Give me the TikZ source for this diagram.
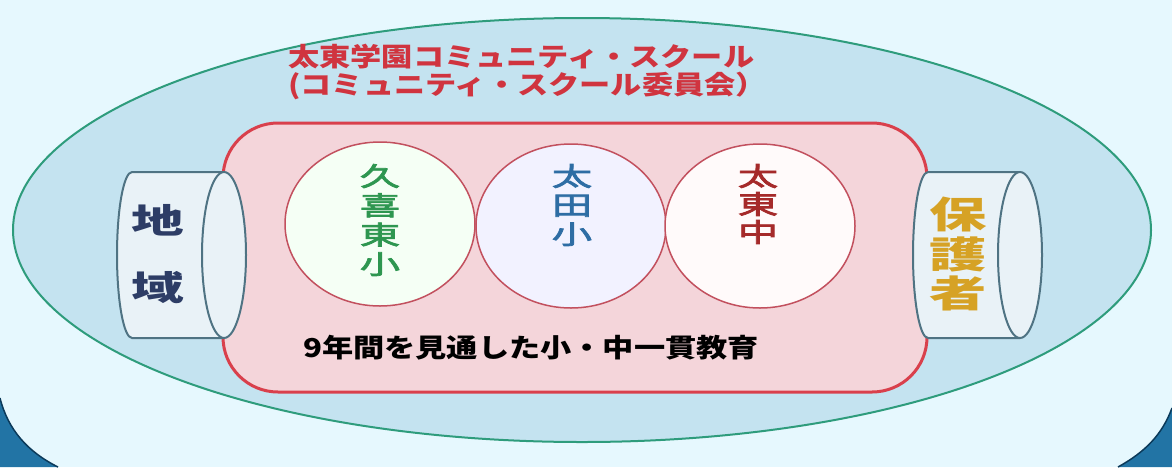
\documentclass[tikz,border=0pt]{standalone}
\usepackage{fontspec}
\newfontfamily\jp{Noto Sans CJK JP}[FakeStretch=1.2]
\newfontfamily\jptitle{Noto Sans CJK JP}[FakeStretch=1.2]
\newfontfamily\jpwide{Noto Sans CJK JP}[FakeStretch=1.55]
\newfontfamily\jpmid{Noto Sans CJK JP}[FakeStretch=1.55,FakeBold=3]
\usetikzlibrary{shapes.geometric}

\definecolor{bgcyan}{HTML}{E6F8FE}
\definecolor{frameblue}{HTML}{2274A5}
\definecolor{framedark}{HTML}{0B3A5A}
\definecolor{outerfill}{HTML}{C4E3F0}
\definecolor{outeredge}{HTML}{2E9C7C}
\definecolor{pinkfill}{HTML}{F4D5DA}
\definecolor{pinkedge}{HTML}{D9404C}
\definecolor{circleedge}{HTML}{C2505E}
\definecolor{cylfill}{HTML}{E9F2F7}
\definecolor{cyledge}{HTML}{4F7383}
\definecolor{titlered}{HTML}{D0343F}
\definecolor{navytext}{HTML}{2D3D66}
\definecolor{goldtext}{HTML}{D6A225}
\definecolor{greentext}{HTML}{2E9650}
\definecolor{bluetext}{HTML}{2E6DA4}
\definecolor{darkred}{HTML}{A52A2A}

\begin{document}
\begin{tikzpicture}[x=1pt,y=-1pt,
	school/.style={ellipse,draw=circleedge,line width=1.5pt,minimum width=190pt,minimum height=164pt,inner sep=0pt},
	cylbox/.style={draw=cyledge,fill=cylfill,line width=2pt},
	vword/.style={align=center,inner sep=0pt}]
		\useasboundingbox (0,0) rectangle (1172,467);
		\fill[bgcyan] (0,0) rectangle (1172,467);
		\fill[frameblue] (0,398) .. controls (8,430) and (28,452) .. (58,467) -- (0,467) -- cycle;
		\fill[frameblue] (1172,408) .. controls (1162,435) and (1145,452) .. (1118,467) -- (1172,467) -- cycle;
		\draw[framedark,line width=1.5pt] (0,398) .. controls (8,430) and (28,452) .. (58,467);
		\draw[framedark,line width=1.5pt] (1172,408) .. controls (1162,435) and (1145,452) .. (1118,467);
		
		\filldraw[fill=outerfill,draw=outeredge,line width=2pt] (582,230) ellipse[x radius=569, y radius=212];
		\node[font=\jptitle\bfseries\fontsize{26}{26}\selectfont,text=titlered,anchor=west,inner sep=0pt] (title1) at (288,57) {太東学園コミュニティ・スクール};
		\node[font=\jptitle\bfseries\fontsize{26}{26}\selectfont,text=titlered,anchor=west,inner sep=0pt] (title2) at (288,86) {(コミュニティ・スクール委員会）};
		
		\filldraw[fill=pinkfill,draw=pinkedge,line width=3pt,rounded corners=55] (223,123) rectangle (927,392);
		
		\node[school,fill=green!4!white] (kuki) at (380,224) {};
		\node[school,fill=blue!5!white] (ota) at (571,226) {};
		\node[school,fill=red!2!white] (taito) at (760,226) {};
		\node[vword,text=greentext,font=\jpmid\fontsize{26}{29.3}\selectfont] (kukiname) at (380,220) {久\\喜\\東\\小};
		\node[vword,text=bluetext,font=\jpmid\fontsize{26}{29}\selectfont] (otaname) at (572,205) {太\\田\\小};
		\node[vword,text=darkred,font=\jpmid\fontsize{26}{28}\selectfont] (taitoname) at (758,204) {太\\東\\中};
		\node[font=\jp\bfseries\fontsize{26}{26}\selectfont,inner sep=0pt] (motto) at (531,348) {9年間を見通した小・中一貫教育};
		
		\filldraw[cylbox] (224,172) -- (132,172) arc[start angle=270, end angle=90, x radius=15, y radius=83] -- (224,338);
		\filldraw[cylbox] (224,255) ellipse[x radius=22, y radius=83];
		\node[vword,text=navytext,font=\jpwide\bfseries\fontsize{34}{67}\selectfont] (chiiki) at (158,254) {地\\域};
		
		\filldraw[cylbox] (1020,172) -- (928,172) arc[start angle=270, end angle=90, x radius=15, y radius=83] -- (1020,338);
		\filldraw[cylbox] (1020,255) ellipse[x radius=22, y radius=83];
		\node[vword,text=goldtext,font=\jpwide\bfseries\fontsize{37}{39.5}\selectfont] (hogosha) at (958,254) {保\\護\\者};
	\end{tikzpicture}
\end{document}
